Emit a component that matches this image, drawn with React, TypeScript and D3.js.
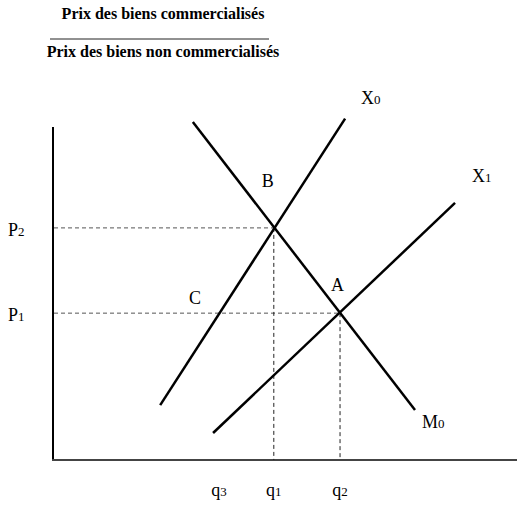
import React from "react";
import * as d3 from "d3";

// Data (arbitrary economic units)
const qLabels = ["q3", "q1", "q2"];
const qValues = [3.61, 4.8, 6.24];
const pLabels = ["P2", "P1"];
const pValues = [6.97, 4.41];
const curveNames = ["X0", "X1", "M0"];
const curveX0 = [{ x: 2.33, y: 1.65 }, { x: 6.35, y: 10.25 }];
const curveX1 = [{ x: 3.48, y: 0.81 }, { x: 8.74, y: 7.72 }];
const curveM0 = [{ x: 3.04, y: 10.15 }, { x: 7.87, y: 1.5 }];
const pointNames = ["B", "A", "C"];
const pointXs = [4.8, 6.24, 3.61];
const pointYs = [6.97, 4.41, 4.41];
const titleTop = "Prix des biens commercialisés";
const titleBottom = "Prix des biens non commercialisés";

const W = 523;
const H = 507;

export default function App() {
  const x = d3.scaleLinear().domain([0, 10]).range([53, 513]);
  const y = d3.scaleLinear().domain([0, 10]).range([460, 127]);
  const line = d3
    .line<{ x: number; y: number }>()
    .x((d) => x(d.x))
    .y((d) => y(d.y));
  const font = "'Liberation Serif', 'DejaVu Serif', serif";
  const curves = [curveX0, curveX1, curveM0];

  const sub = (label: string) => (
    <>
      {label[0]}
      <tspan fontSize="0.72em">{label.slice(1)}</tspan>
    </>
  );

  // label offsets (px) relative to curve end points
  const curveLabelPos = [
    { d: curveX0[1], dx: 16, dy: -15 },
    { d: curveX1[1], dx: 17, dy: -21 },
    { d: curveM0[1], dx: 7, dy: 18 },
  ];
  const pointLabelOffset = [
    { dx: -12, dy: -41 },
    { dx: -9, dy: -22 },
    { dx: -30, dy: -9 },
  ];

  return (
    <svg
      width={W}
      height={H}
      style={{ position: "absolute", left: 0, top: 0, background: "#fff" }}
      fontFamily={font}
    >
      {/* Title fraction */}
      <text x={163} y={19} textAnchor="middle" fontWeight="bold" fontSize={16}>
        {titleTop}
      </text>
      <line x1={50} x2={269} y1={39} y2={39} stroke="#222" strokeWidth={1} />
      <text x={163} y={57} textAnchor="middle" fontWeight="bold" fontSize={16}>
        {titleBottom}
      </text>

      {/* Axes */}
      <line x1={x(0)} x2={x(0)} y1={y(10)} y2={y(0) + 1} stroke="#000" strokeWidth={2} />
      <line x1={x(0) - 1} x2={517} y1={y(0)} y2={y(0)} stroke="#444" strokeWidth={2} />

      {/* Dashed guides */}
      {pValues.map((p, i) => (
        <line
          key={"h" + i}
          x1={x(0) + 1}
          x2={x(qValues[i + 1])}
          y1={y(p)}
          y2={y(p)}
          stroke="#555"
          strokeWidth={1}
          strokeDasharray="4,3"
        />
      ))}
      {pValues.map((p, i) => (
        <line
          key={"v" + i}
          x1={x(qValues[i + 1])}
          x2={x(qValues[i + 1])}
          y1={y(p)}
          y2={y(0)}
          stroke="#222"
          strokeWidth={1}
          strokeDasharray="4,3"
        />
      ))}

      {/* Curves */}
      {curves.map((c, i) => (
        <path key={i} d={line(c) || ""} fill="none" stroke="#000" strokeWidth={2.5} />
      ))}

      {/* P labels */}
      {pLabels.map((l, i) => (
        <text key={l} x={8} y={y(pValues[i]) + 8} fontSize={18}>
          {sub(l)}
        </text>
      ))}

      {/* q labels */}
      {qLabels.map((l, i) => (
        <text key={l} x={x(qValues[i])} y={y(0) + 36} fontSize={18} textAnchor="middle">
          {sub(l)}
        </text>
      ))}

      {/* Curve labels */}
      {curveNames.map((n, i) => (
        <text
          key={n}
          x={x(curveLabelPos[i].d.x) + curveLabelPos[i].dx}
          y={y(curveLabelPos[i].d.y) + curveLabelPos[i].dy}
          fontSize={18}
        >
          {sub(n)}
        </text>
      ))}

      {/* Point labels */}
      {pointNames.map((n, i) => (
        <text
          key={n}
          x={x(pointXs[i]) + pointLabelOffset[i].dx}
          y={y(pointYs[i]) + pointLabelOffset[i].dy}
          fontSize={18}
        >
          {n}
        </text>
      ))}
    </svg>
  );
}
